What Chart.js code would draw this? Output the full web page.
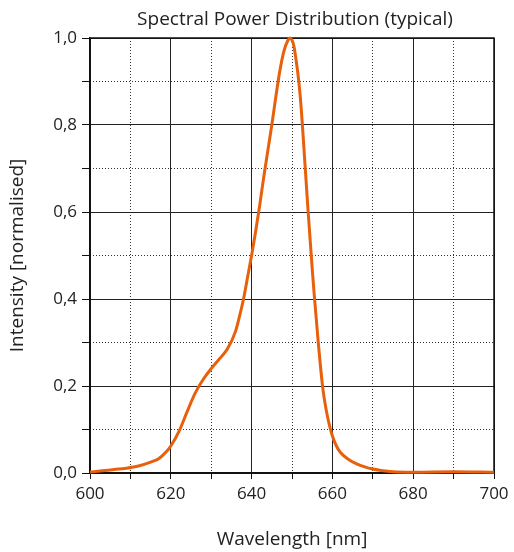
<!DOCTYPE html>
<html>
<head>
<meta charset="utf-8">
<script src="https://cdn.jsdelivr.net/npm/chart.js@4"></script>
<style>
  html, body { margin: 0; padding: 0; background: #fff; }
  #wrap { width: 514px; height: 552px; }
</style>
</head>
<body>
<div id="wrap"><canvas id="spd"></canvas></div>
<script>
// Spectral power distribution
const wavelengths = [600, 603, 606, 609, 612, 615, 617, 619, 620, 622, 624, 626, 628, 630, 632, 634, 636, 637, 638, 639,
  640, 641, 642, 643, 644, 645, 646, 647, 648, 649, 649.5, 650, 650.5, 651, 651.5, 652, 652.5, 653, 653.5, 654,
  654.5, 655, 655.5, 656, 656.5, 657, 657.5, 658, 659, 660, 661, 662, 664, 666, 668, 670, 672, 675, 680, 690, 700];
const intensity = [0.002, 0.005, 0.008, 0.011, 0.016, 0.025, 0.033, 0.05, 0.062, 0.095, 0.14, 0.183, 0.215, 0.24, 0.262, 0.285, 0.325, 0.36, 0.40, 0.45,
  0.50, 0.555, 0.615, 0.68, 0.74, 0.80, 0.865, 0.925, 0.97, 0.995, 1.0, 0.995, 0.98, 0.95, 0.915, 0.87, 0.81, 0.74, 0.67, 0.60,
  0.535, 0.47, 0.41, 0.355, 0.30, 0.25, 0.205, 0.17, 0.12, 0.085, 0.062, 0.047, 0.031, 0.021, 0.014, 0.009, 0.006, 0.003, 0.002, 0.003, 0.002];

const xMin = 600, xMax = 700, xStep = 10, xMajor = 20;
const yMin = 0, yMax = 1, yStep = 0.1;

const FONT = '"Open Sans", "Noto Sans", sans-serif';
const INK = '#222';

const isMajorY = v => Math.round(v * 10) % 2 === 0;
const isMajorX = v => Math.round(v) % xMajor === 0;

// title centred over the plot area + black frame round it
const framePlugin = {
  id: 'frame',
  beforeDatasetsDraw(chart) {
    const { ctx, chartArea: a } = chart;
    ctx.save();
    ctx.strokeStyle = '#111';
    ctx.lineWidth = 1.5;
    ctx.strokeRect(a.left, a.top, a.right - a.left, a.bottom - a.top);
    ctx.restore();
  },
  afterDraw(chart) {
    const { ctx, chartArea: a } = chart;
    ctx.save();
    ctx.fillStyle = INK;
    ctx.font = '19px ' + FONT;
    ctx.textAlign = 'center';
    ctx.textBaseline = 'middle';
    ctx.fillText('Spectral Power Distribution (typical)', (a.left + a.right) / 2 + 3, 20);
    ctx.restore();
  }
};

new Chart(document.getElementById('spd').getContext('2d'), {
  type: 'line',
  data: {
    datasets: [{
      data: wavelengths.map((w, i) => ({ x: w, y: intensity[i] })),
      borderColor: '#e8600c',
      borderWidth: 3,
      pointRadius: 0,
      fill: false,
      cubicInterpolationMode: 'monotone',
      clip: false
    }]
  },
  options: {
    responsive: true,
    maintainAspectRatio: false,
    animation: false,
    layout: { padding: { top: 38, right: 20, left: 0, bottom: 0 } },
    plugins: {
      legend: { display: false },
      tooltip: { enabled: false },
      title: { display: false }
    },
    scales: {
      x: {
        type: 'linear',
        min: xMin, max: xMax,
        afterFit: s => { s.height = 79; },
        ticks: {
          stepSize: xStep,
          autoSkip: false,
          maxRotation: 0,
          padding: 5,
          color: INK,
          font: { family: FONT, size: 17 },
          callback: v => isMajorX(v) ? String(v) : ''
        },
        grid: {
          color: c => isMajorX(c.tick.value) ? '#222' : 'rgba(0,0,0,0)',
          tickColor: '#111',
          tickLength: 6,
          lineWidth: 1
        },
        border: { display: true, color: '#111', width: 1.5 },
        title: {
          display: true,
          text: 'Wavelength [nm]',
          color: INK,
          font: { family: FONT, size: 19 },
          padding: { top: 0, bottom: 1 }
        }
      },
      // dotted minor grid
      x2: {
        type: 'linear',
        position: 'bottom',
        min: xMin, max: xMax,
        afterFit: s => { s.height = 0; },
        ticks: { stepSize: xStep, display: false },
        grid: {
          drawTicks: false,
          color: c => isMajorX(c.tick.value) ? 'rgba(0,0,0,0)' : '#333',
          lineWidth: 1
        },
        border: { display: false, dash: [1, 2] }
      },
      y: {
        type: 'linear',
        min: yMin, max: yMax,
        afterFit: s => { s.width = 90; },
        ticks: {
          stepSize: yStep,
          autoSkip: false,
          padding: 5,
          color: INK,
          font: { family: FONT, size: 17 },
          callback: v => isMajorY(v) ? v.toFixed(1).replace('.', ',') : ''
        },
        grid: {
          color: c => isMajorY(c.tick.value) ? '#222' : 'rgba(0,0,0,0)',
          tickColor: '#111',
          tickLength: 8,
          lineWidth: 1
        },
        border: { display: true, color: '#111', width: 1.5 },
        title: {
          display: true,
          text: 'Intensity [normalised]',
          color: INK,
          font: { family: FONT, size: 19 },
          padding: { top: 6, bottom: 0 }
        }
      },
      y2: {
        type: 'linear',
        position: 'left',
        min: yMin, max: yMax,
        afterFit: s => { s.width = 0; },
        ticks: { stepSize: yStep, display: false },
        grid: {
          drawTicks: false,
          color: c => isMajorY(c.tick.value) ? 'rgba(0,0,0,0)' : '#333',
          lineWidth: 1
        },
        border: { display: false, dash: [1, 2] }
      }
    }
  },
  plugins: [framePlugin]
});
</script>
</body>
</html>
